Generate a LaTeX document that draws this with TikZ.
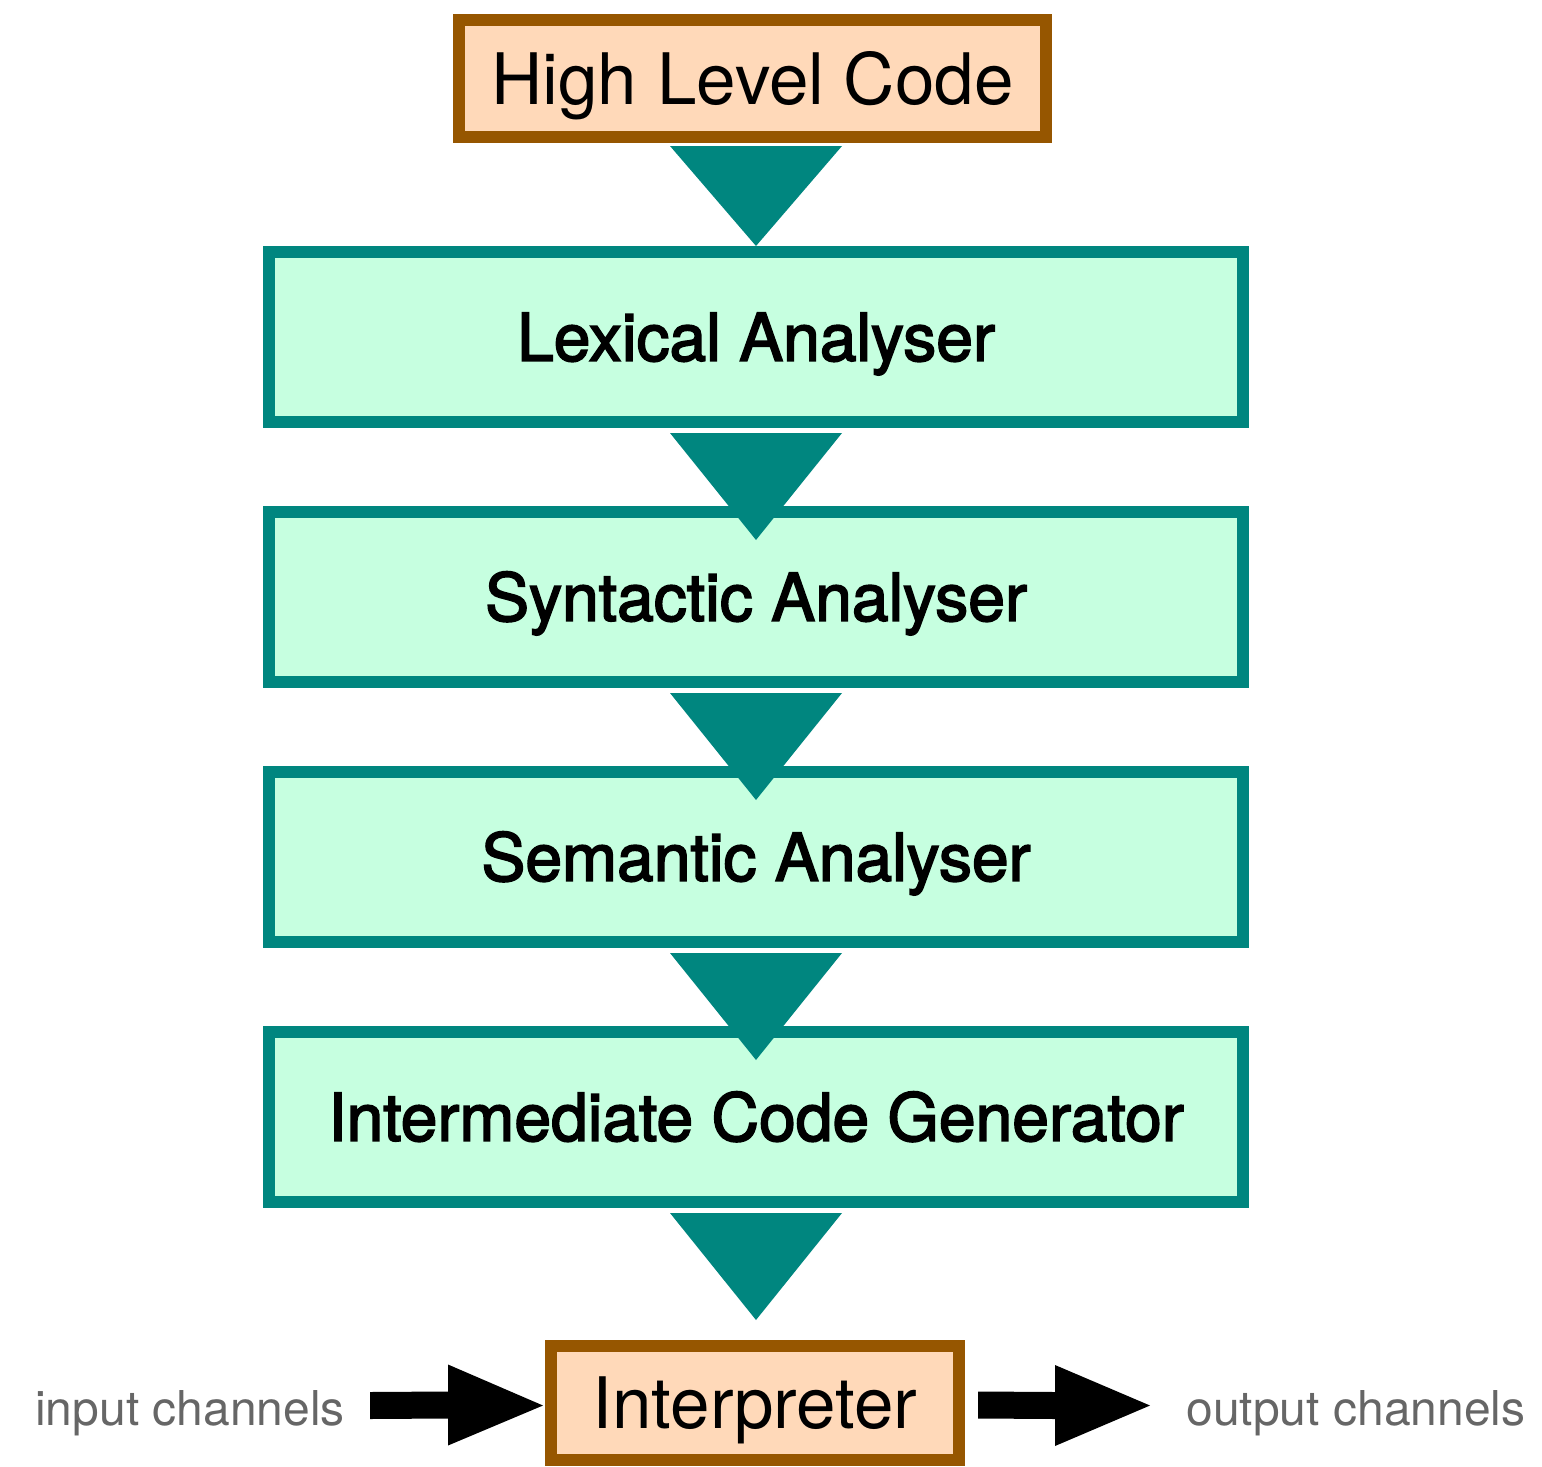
\documentclass[tikz,border=0pt]{standalone}
\usepackage{fontspec}
\setmainfont{TeX Gyre Heros}
\newfontfamily\medfont{TeX Gyre Heros}[FakeBold=2.5]
\usetikzlibrary{calc}
\definecolor{tealc}{RGB}{0,134,127}
\definecolor{mintc}{RGB}{198,255,224}
\definecolor{peachc}{RGB}{255,217,185}
\definecolor{brownc}{RGB}{150,86,0}
\definecolor{grayc}{RGB}{102,102,102}
\begin{document}
\begin{tikzpicture}[x=0.5pt,y=-0.5pt,
  stagebox/.style={draw=tealc, fill=mintc, line width=6pt, outer sep=3pt,
    minimum width=487pt, minimum height=85pt, inner sep=0pt,
    text height=23.8pt, text depth=0pt,
    font=\medfont\fontsize{33}{40}\selectfont},
  endbox/.style={draw=brownc, fill=peachc, line width=6pt, outer sep=3pt,
    inner sep=0pt, text height=25.6pt, text depth=0pt,
    font=\fontsize{35.5}{42}\selectfont},
  chan/.style={text=grayc, inner sep=0pt, text height=17.3pt, text depth=0pt,
    font=\fontsize{24}{29}\selectfont},
  flow/.style={fill=tealc},
  bigarrow/.style={fill=black}]
\useasboundingbox (0,0) rectangle (1542,1467);
\node[endbox, minimum width=293.5pt, minimum height=58.5pt] (hlc) at (752.5,78.5) {High Level Code};
\node[stagebox] (lex) at (756,337) {Lexical Analyser};
\node[stagebox] (syn) at (756,597) {Syntactic Analyser};
\node[stagebox] (sem) at (756,857) {Semantic Analyser};
\node[stagebox] (icg) at (756,1117) {Intermediate Code Generator};
\node[endbox, minimum width=204pt, minimum height=57pt] (ip) at (755,1403) {Interpreter};
\node[chan] (inl) at (190,1408) {input channels};
\node[chan] (outl) at (1356,1408) {output channels};
% teal flow triangles
\fill[flow] ($(hlc.south)+(-82.5,3)$) -- ($(hlc.south)+(89.5,3)$) -- (lex.north) -- cycle;
\foreach \s in {lex,syn,sem,icg}{
  \fill[flow] ($(\s.south)+(-86,5)$) -- ($(\s.south)+(86,5)$) -- ($(\s.south)+(0,112)$) -- cycle;
}
% input / output arrows
\coordinate (inS) at (370,1405.5);
\coordinate (outE) at (1150,1405.5);
\fill[bigarrow] ($(inS)+(0,-13.5)$) -- ($(ip.west)+(-97,-11.5)$) -- ($(ip.west)+(-97,-38.5)$)
  -- ($(ip.west)+(-2,2.5)$) -- ($(ip.west)+(-97,42.5)$) -- ($(ip.west)+(-97,15.5)$)
  -- ($(inS)+(0,13.5)$) -- cycle;
\fill[bigarrow] ($(ip.east)+(13,-11.5)$) -- ($(outE)+(-95,-13.5)$) -- ($(outE)+(-95,-40.5)$)
  -- (outE) -- ($(outE)+(-95,40.5)$) -- ($(outE)+(-95,13.5)$)
  -- ($(ip.east)+(13,15.5)$) -- cycle;
\end{tikzpicture}
\end{document}
